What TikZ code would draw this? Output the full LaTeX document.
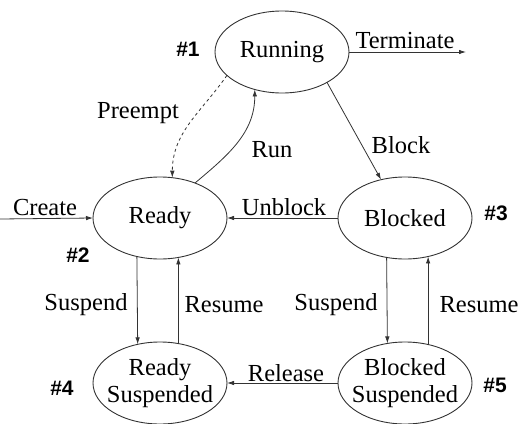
\documentclass[tikz,border=0pt]{standalone}
\usepackage{fontspec}
\setmainfont{Liberation Serif}
\newfontfamily\hashfont{Liberation Sans}
\usetikzlibrary{shapes.geometric,arrows.meta}
\begin{document}
\begin{tikzpicture}[x=1pt,y=-1pt,
  state/.style={draw=black!80,line width=0.9pt,ellipse,minimum width=134pt,minimum height=82pt,inner sep=0pt,outer sep=0pt},
  lbl/.style={font=\fontsize{24.5}{27}\selectfont,inner sep=0pt,align=center},
  num/.style={font=\hashfont\bfseries\fontsize{21}{24}\selectfont,inner sep=0pt},
  arr/.style={draw=black!80,line width=0.8pt,-{Latex[length=7pt,width=4.5pt]}}]
\useasboundingbox (0,0) rectangle (522,423);
\clip (0,0) rectangle (522,423);
\node[state,label={[lbl]center:Running}] (run) at (282,52) {};
\node[state,label={[lbl]center:Ready}] (ready) at (160,218) {};
\node[state,label={[lbl]center:Blocked}] (blk) at (405,218) {};
\node[state,label={[lbl]center:Ready\\Suspended}] (rs) at (160,383) {};
\node[state,label={[lbl]center:Blocked\\Suspended}] (bs) at (405,383) {};
\coordinate (term) at (466,52);
\coordinate (create) at (0,219);
% connectors
\draw[arr] (run.east) -- (term);
\draw[arr] (create) -- (ready.west);
\draw[arr] (blk.west) -- (ready.east);
\draw[arr] (bs.west) -- (rs.east);
\draw[arr] (run.-34.5) -- (blk.122);
\draw[arr] (ready.45.8) to[out=40,in=-90] (run.-126.2);
\draw[arr,dashed] (run.203) to[out=-125,in=90] (ready.73);
\draw[arr] (ready.239.16) -- (rs.120.84);
\draw[arr] (rs.65.5) -- (ready.-65.5);
\draw[arr] (blk.245.5) -- (bs.114.5);
\draw[arr] (bs.59.16) -- (blk.-59.16);
% labels
\node[lbl] (lterm) at (405,41) {Terminate};
\node[lbl] (lcreate) at (45,208) {Create};
\node[lbl] (lunblock) at (284,207) {Unblock};
\node[lbl] (lpreempt) at (138,113) {Preempt};
\node[lbl] (lrun) at (272,150) {Run};
\node[lbl] (lblock) at (401,145) {Block};
\node[lbl] (lsus1) at (86,305) {Suspend};
\node[lbl] (lres1) at (224,305) {Resume};
\node[lbl] (lsus2) at (336,305) {Suspend};
\node[lbl] (lres2) at (479,305) {Resume};
\node[lbl] (lrel) at (286,373) {Release};
\node[num] (n1) at (188,49) {\#1};
\node[num] (n2) at (78,255) {\#2};
\node[num] (n3) at (496,213) {\#3};
\node[num] (n4) at (62,388) {\#4};
\node[num] (n5) at (495,385) {\#5};
\end{tikzpicture}
\end{document}
